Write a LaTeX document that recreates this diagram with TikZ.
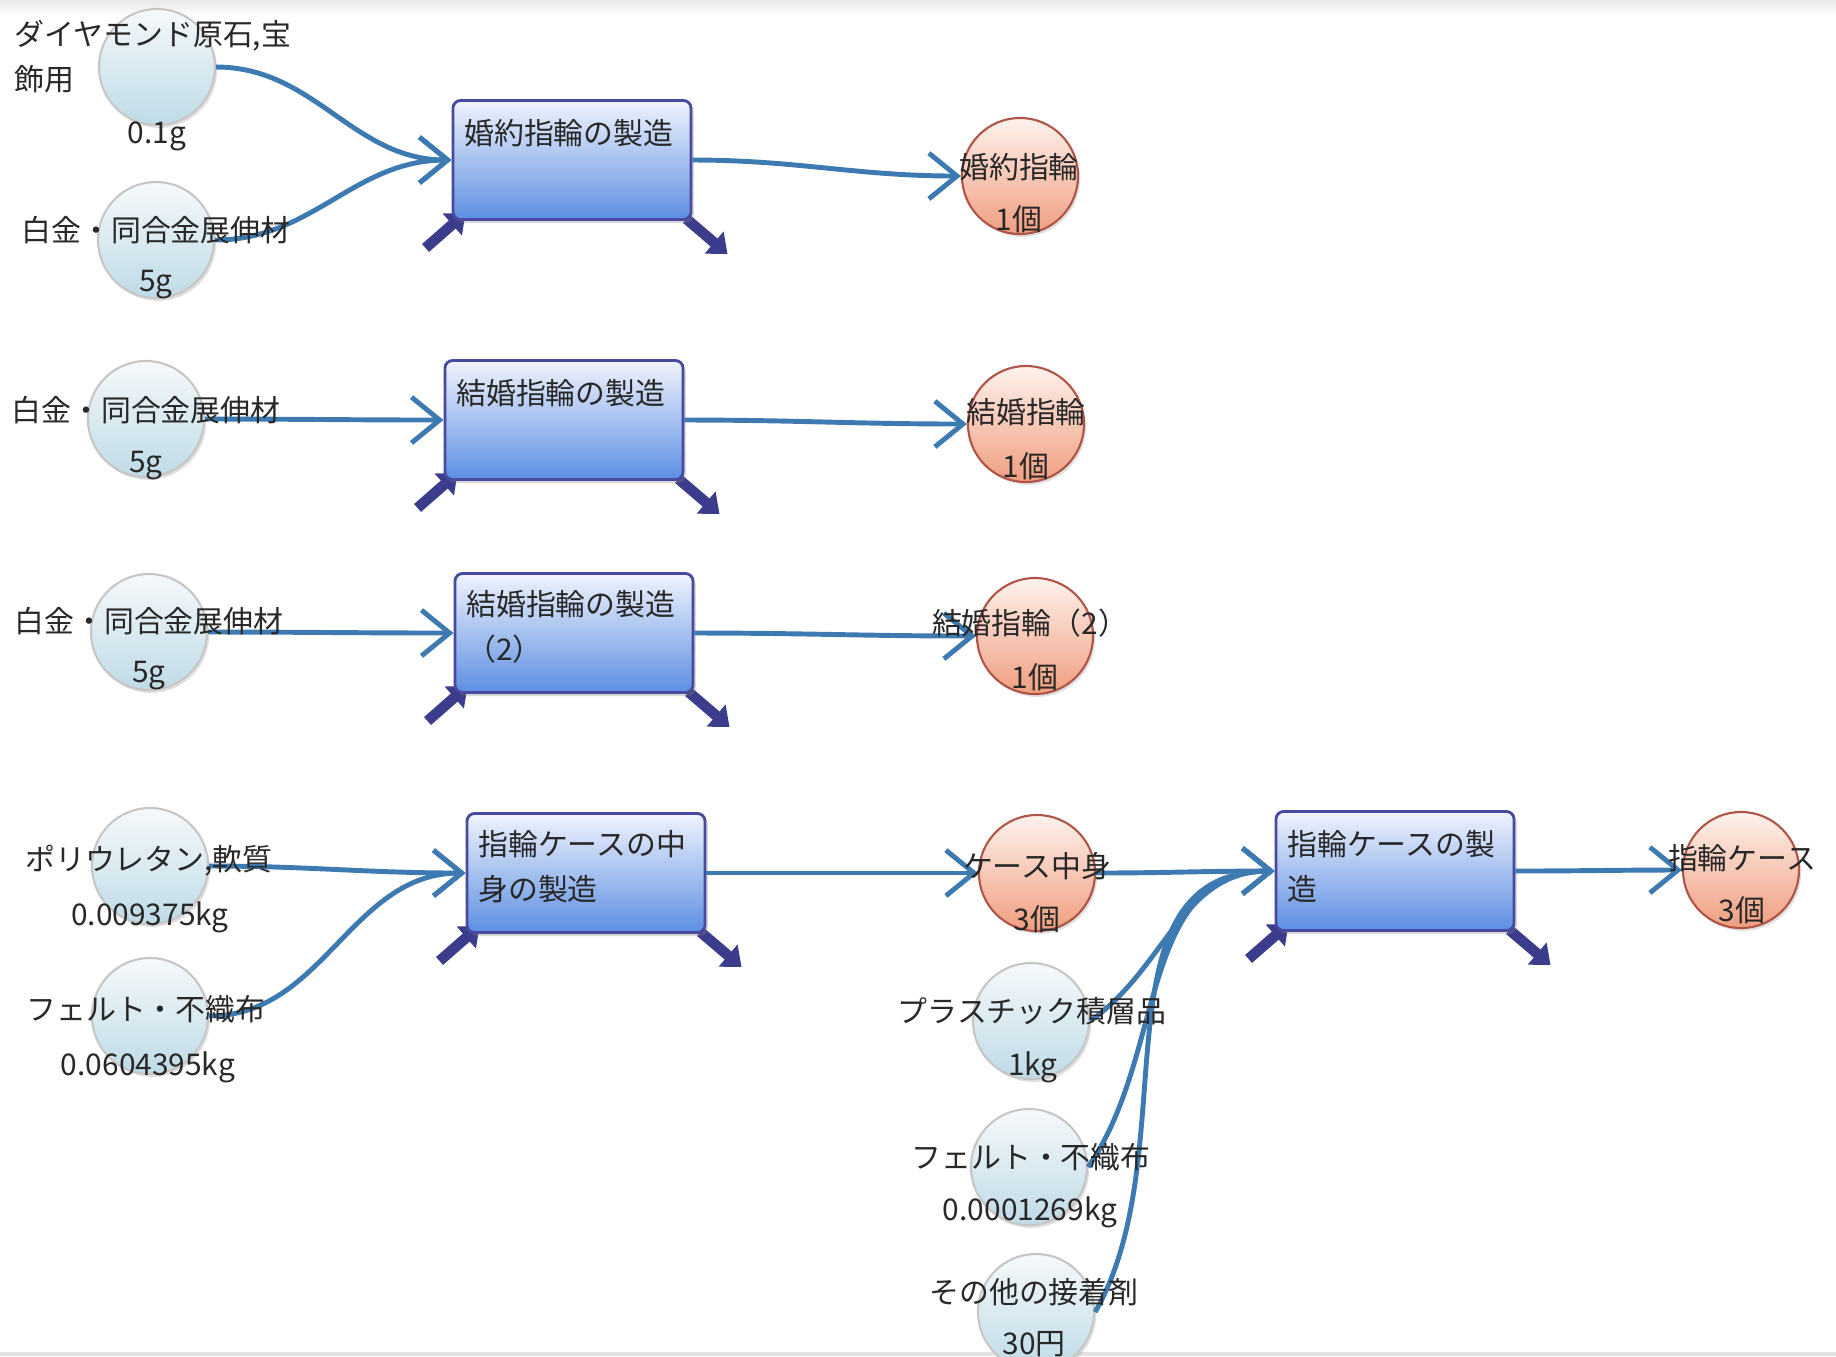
\documentclass[tikz,border=0pt]{standalone}
\usepackage{fontspec}
\setmainfont{Noto Sans CJK JP}
\usetikzlibrary{arrows.meta,shadows,backgrounds}

\definecolor{flowblue}{RGB}{62,122,178}
\definecolor{procline}{RGB}{72,74,160}
\definecolor{proctop}{RGB}{240,244,253}
\definecolor{procbot}{RGB}{92,142,226}
\definecolor{intop}{RGB}{246,249,251}
\definecolor{inbot}{RGB}{190,219,231}
\definecolor{outtop}{RGB}{253,242,236}
\definecolor{outbot}{RGB}{240,158,128}
\definecolor{outline}{RGB}{176,84,72}
\definecolor{markcol}{RGB}{60,60,140}
\definecolor{txt}{RGB}{40,40,40}

\tikzset{
  every node/.style={font=\fontsize{8.5}{12.8}\selectfont, text=txt},
  inflow/.style={circle, minimum size=1.16cm, draw=gray!45, line width=0.6pt,
    top color=intop, bottom color=inbot,
    drop shadow={opacity=0.25, shadow xshift=0.6pt, shadow yshift=-0.8pt}},
  outflow/.style={circle, minimum size=1.16cm, draw=outline, line width=0.6pt,
    top color=outtop, bottom color=outbot,
    drop shadow={opacity=0.25, shadow xshift=0.6pt, shadow yshift=-0.8pt}},
  process/.style={rectangle, rounded corners=2.2pt, minimum width=2.38cm,
    minimum height=1.19cm, draw=procline, line width=0.8pt,
    top color=proctop, bottom color=procbot,
    drop shadow={opacity=0.3, shadow xshift=0.8pt, shadow yshift=-1pt}},
  nm/.style={inner sep=0pt},
  qty/.style={inner sep=0pt},
  ptext/.style={inner sep=0pt, anchor=west, align=left},
  flow/.style={draw=flowblue, line width=1.4pt,
    -{Straight Barb[length=8pt,width=13pt]}},
  ioarrow/.style={draw=markcol, line width=3pt,
    -{Triangle[length=5pt,width=8pt]}},
}

\begin{document}
\begin{tikzpicture}[x=0.01cm, y=-0.01cm]
  \useasboundingbox (0,0) rectangle (1836,1356);
  \fill[top color=gray!18, bottom color=white] (0,0) rectangle (1836,16);
  \fill[gray!22] (0,1352) rectangle (1836,1356);

  % inputs
  \node[inflow] (c1) at (157,67) {};
  \node[inflow] (c2) at (156,240) {};
  \node[inflow] (c3) at (146,419) {};
  \node[inflow] (c4) at (149,632) {};
  \node[inflow] (c5) at (150,866) {};
  \node[inflow] (c6) at (150,1016) {};
  \node[inflow] (c7) at (1031,1021) {};
  \node[inflow] (c8) at (1029,1167) {};
  \node[inflow] (c9) at (1036,1312) {};

  % processes
  \node[process] (b1) at (572,160) {};
  \node[process] (b2) at (564,420) {};
  \node[process] (b3) at (574,633) {};
  \node[process] (b4) at (586,873) {};
  \node[process] (b5) at (1395,871) {};

  % outputs
  \node[outflow] (o1) at (1020,176) {};
  \node[outflow] (o2) at (1026,424) {};
  \node[outflow] (o3) at (1035,636) {};
  \node[outflow] (o4) at (1037,873) {};
  \node[outflow] (o5) at (1741,870) {};

  % in/out marks of the processes
  \begin{scope}[on background layer]
    \foreach \p in {b1,b2,b3,b4,b5} {
      \draw[ioarrow] ([shift={(-26,27)}]\p.south west) -- ([shift={(14,-8)}]\p.south west);
      \draw[ioarrow] ([shift={(-6,-2)}]\p.south east) -- ([shift={(35,33)}]\p.south east);
    }
  \end{scope}

  % flows
  \draw[flow] (c1.east) to[out=0,in=180] (b1.west);
  \draw[flow] (c2.east) to[out=0,in=180] (b1.west);
  \draw[flow] (b1.east) to[out=0,in=180] (o1.west);
  \draw[flow] (c3.east) to[out=0,in=180] (b2.west);
  \draw[flow] (b2.east) to[out=0,in=180] (o2.west);
  \draw[flow] (c4.east) to[out=0,in=180] (b3.west);
  \draw[flow] (b3.east) to[out=0,in=180] (o3.west);
  \draw[flow] (c5.east) to[out=0,in=180] (b4.west);
  \draw[flow] (c6.east) to[out=0,in=180] (b4.west);
  \draw[flow] (b4.east) to[out=0,in=180] (o4.west);
  \draw[flow] (o4.east) to[out=0,in=180] (b5.west);
  \draw[flow] (c7.east) to[out=35,in=180] (b5.west);
  \draw[flow] (c8.east) to[out=55,in=180] (b5.west);
  \draw[flow] (c9.east) to[out=60,in=180] (b5.west);
  \draw[flow] (b5.east) to[out=0,in=180] (o5.west);

  % texts
  \node[nm, anchor=west, align=left] (c1n) at (14,57) {ダイヤモンド原石,宝\\飾用};
  \node[qty] (c1q) at (157,136) {0.1g};
  \node[nm] (c2n) at (156,230) {白金・同合金展伸材};
  \node[qty] (c2q) at (156,285) {5g};
  \node[nm] (c3n) at (146,410) {白金・同合金展伸材};
  \node[qty] (c3q) at (146,466) {5g};
  \node[nm] (c4n) at (149,621) {白金・同合金展伸材};
  \node[qty] (c4q) at (149,676) {5g};
  \node[nm] (c5n) at (149,861) {ポリウレタン,軟質};
  \node[qty] (c5q) at (150,917) {0.009375kg};
  \node[nm] (c6n) at (146,1009) {フェルト・不織布};
  \node[qty] (c6q) at (148,1067) {0.0604395kg};
  \node[nm] (c7n) at (1032,1011) {プラスチック積層品};
  \node[qty] (c7q) at (1033,1067) {1kg};
  \node[nm] (c8n) at (1031,1157) {フェルト・不織布};
  \node[qty] (c8q) at (1030,1212) {0.0001269kg};
  \node[nm] (c9n) at (1034,1292) {その他の接着剤};
  \node[qty] (c9q) at (1034,1344) {30円};

  \node[nm] (o1n) at (1019,167) {婚約指輪};
  \node[qty] (o1q) at (1019,219) {1個};
  \node[nm] (o2n) at (1026,412) {結婚指輪};
  \node[qty] (o2q) at (1026,466) {1個};
  \node[nm] (o3n) at (1030,623) {結婚指輪（2）};
  \node[qty] (o3q) at (1035,677) {1個};
  \node[nm] (o4n) at (1037,866) {ケース中身};
  \node[qty] (o4q) at (1037,919) {3個};
  \node[nm] (o5n) at (1742,858) {指輪ケース};
  \node[qty] (o5q) at (1742,910) {3個};

  \node[ptext] (b1t) at ([shift={(12,34)}]b1.north west) {婚約指輪の製造};
  \node[ptext] (b2t) at ([shift={(12,34)}]b2.north west) {結婚指輪の製造};
  \node[ptext] (b3t) at ([shift={(12,55)}]b3.north west) {結婚指輪の製造\\（2）};
  \node[ptext] (b4t) at ([shift={(12,55)}]b4.north west) {指輪ケースの中\\身の製造};
  \node[ptext] (b5t) at ([shift={(12,56)}]b5.north west) {指輪ケースの製\\造};
\end{tikzpicture}
\end{document}
